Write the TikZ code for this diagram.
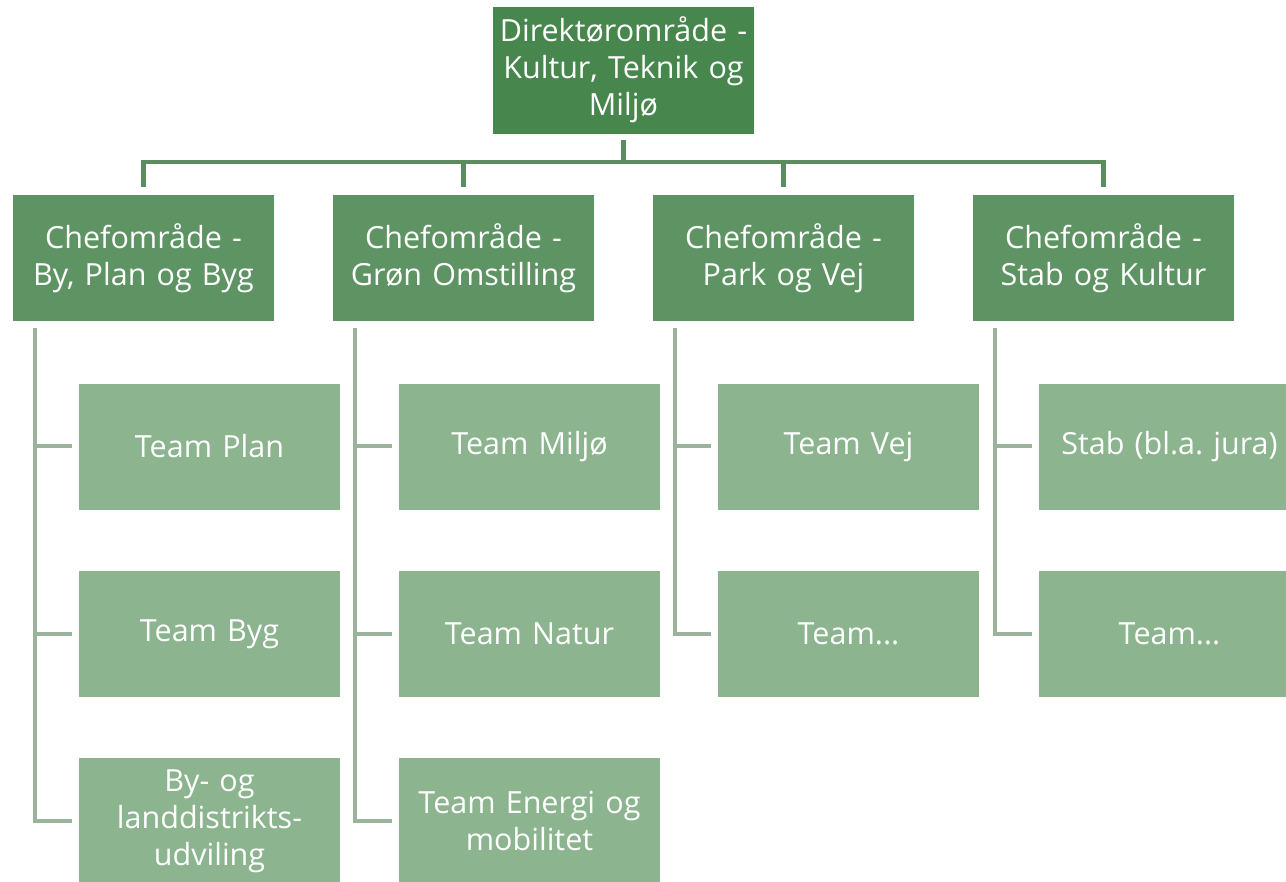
\documentclass[tikz,border=0pt]{standalone}
\usepackage{fontspec}
\setmainfont{Open Sans}[WordSpace=0.7]
\definecolor{topgreen}{RGB}{71,135,77}
\definecolor{chefgreen}{RGB}{94,148,99}
\definecolor{teamgreen}{RGB}{139,180,143}
\definecolor{topline}{RGB}{90,140,95}
\definecolor{teamline}{RGB}{155,179,156}
\begin{document}
\frenchspacing
\begin{tikzpicture}[x=1pt,y=-1pt,
  box/.style={draw=white, line width=0.6pt, minimum width=259pt, minimum height=127pt, inner sep=0pt,
    align=center, text=white, font=\fontsize{30.5}{37}\selectfont, text width=262pt},
  topbox/.style={box, fill=topgreen, minimum height=128pt},
  chefbox/.style={box, fill=chefgreen},
  teambox/.style={box, fill=teamgreen},
  uplink/.style={draw=topline, line width=4.5pt},
  downlink/.style={draw=teamline, line width=4pt, shorten <=6pt, shorten >=6pt}
]
\useasboundingbox (0,0) rectangle (1286,882);
\node[topbox] (top) at (623.5,70) {Direktørområde -\\Kultur, Teknik og\\Miljø};
\node[chefbox] (c1) at (143.5,258) {Chefområde -\\By, Plan og Byg};
\node[chefbox] (c2) at (463.5,258) {Chefområde -\\Grøn Omstilling};
\node[chefbox] (c3) at (783.5,258) {Chefområde -\\Park og Vej};
\node[chefbox] (c4) at (1103.5,258) {Chefområde -\\Stab og Kultur};
\node[teambox] (t11) at (209.5,446.5) {Team Plan};
\node[teambox] (t12) at (209.5,634) {Team Byg};
\node[teambox] (t13) at (209.5,821) {By- og\\landdistrikts-\\udviling};
\node[teambox] (t21) at (529.5,446.5) {Team Miljø};
\node[teambox] (t22) at (529.5,634) {Team Natur};
\node[teambox] (t23) at (529.5,821) {Team Energi og\\mobilitet};
\node[teambox] (t31) at (848.5,446.5) {Team Vej};
\node[teambox] (t32) at (848.5,634) {Team...};
\node[teambox] (t41) at (1169.5,446.5) {Stab (bl.a. jura)};
\node[teambox] (t42) at (1169.5,634) {Team...};
\coordinate (hub) at (623.5,162);
\draw[uplink, shorten <=6pt] (top.south) -- (hub);
\foreach \c in {c1,c2,c3,c4}{
  \draw[uplink, shorten >=7pt] (hub) -| (\c.north);
}
\coordinate (s1) at ([xshift=23pt]c1.south west);
\coordinate (s2) at ([xshift=23pt]c2.south west);
\coordinate (s3) at ([xshift=23pt]c3.south west);
\coordinate (s4) at ([xshift=23pt]c4.south west);
\draw[downlink] (s1) |- (t11.west);
\draw[downlink] (s1) |- (t12.west);
\draw[downlink] (s1) |- (t13.west);
\draw[downlink] (s2) |- (t21.west);
\draw[downlink] (s2) |- (t22.west);
\draw[downlink] (s2) |- (t23.west);
\draw[downlink] (s3) |- (t31.west);
\draw[downlink] (s3) |- (t32.west);
\draw[downlink] (s4) |- (t41.west);
\draw[downlink] (s4) |- (t42.west);
\end{tikzpicture}
\end{document}
